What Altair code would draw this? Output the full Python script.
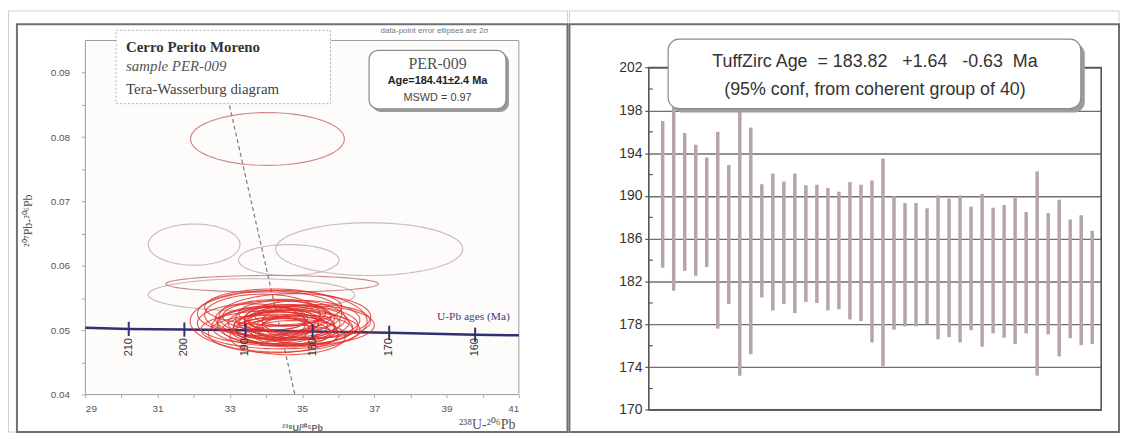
import altair as alt
import numpy as np
import pandas as pd

# ---------------- left panel: Tera-Wasserburg data ----------------
red_cx = [34.35, 34.10, 34.60, 34.40, 34.20, 34.75, 34.50, 34.30, 34.85, 34.05,
          34.55, 34.40, 34.65, 34.25, 34.45, 34.70, 34.35, 34.55, 34.15, 34.90,
          34.45, 34.60, 34.30, 34.50, 33.90, 35.00, 34.20, 34.70, 34.00, 35.10,
          35.20, 35.40, 33.60, 34.80, 34.40, 34.60, 34.20]
red_cy = [0.0514, 0.0526, 0.0508, 0.0518, 0.0506, 0.0504, 0.0511, 0.0522, 0.0512, 0.0512,
          0.0500, 0.0506, 0.0518, 0.0499, 0.0526, 0.0496, 0.0511, 0.0514, 0.0518, 0.0506,
          0.0504, 0.0522, 0.0515, 0.0508, 0.0524, 0.0516, 0.0536, 0.0491, 0.0501, 0.0501,
          0.0508, 0.0514, 0.0511, 0.0521, 0.0501, 0.0490, 0.0495]
red_a = [2.45, 2.00, 1.95, 1.80, 1.70, 1.65, 1.55, 1.50, 1.45, 1.40,
         1.40, 1.30, 1.25, 1.20, 1.20, 1.10, 1.10, 1.00, 1.00, 1.00,
         0.90, 0.90, 0.80, 0.75, 1.60, 1.60, 1.90, 1.30, 1.20, 1.30,
         1.80, 1.50, 1.50, 2.10, 2.20, 1.60, 1.80]
red_b = [0.0048, 0.0035, 0.0032, 0.0030, 0.0030, 0.0028, 0.0026, 0.0024, 0.0026, 0.0025,
         0.0022, 0.0022, 0.0021, 0.0020, 0.0020, 0.0019, 0.0018, 0.0017, 0.0018, 0.0018,
         0.0015, 0.0015, 0.0014, 0.0013, 0.0032, 0.0030, 0.0028, 0.0017, 0.0022, 0.0022,
         0.0030, 0.0026, 0.0030, 0.0036, 0.0030, 0.0028, 0.0030]
pink_cx = [34.04, 34.17]
pink_cy = [0.0797, 0.0572]
pink_a = [2.13, 2.94]
pink_b = [0.0041, 0.0013]
gray_cx = [32.01, 36.86, 33.60, 34.63]
gray_cy = [0.0633, 0.0626, 0.0555, 0.0609]
gray_a = [1.27, 2.59, 2.86, 1.39]
gray_b = [0.0032, 0.0041, 0.0025, 0.0024]

conc_x = [29.0, 30.2, 31.74, 33.43, 35.29, 37.41, 39.79, 41.0]
conc_y = [0.0504, 0.0502, 0.0501, 0.0500, 0.0498, 0.0496, 0.0493, 0.0492]
age_labels = ["210", "200", "190", "180", "170", "160"]
age_x = [30.2, 31.74, 33.43, 35.29, 37.41, 39.79]
age_y = [0.0502, 0.0501, 0.0500, 0.0498, 0.0496, 0.0493]
age_label_y = 0.04736
dash_x = [32.99, 34.80]
dash_y = [0.0849, 0.0400]

# ---------------- right panel: TuffZirc ranges ----------------
bar_hi = [197.0, 198.4, 195.9, 194.8, 193.6, 196.0, 192.9, 198.5, 196.4, 191.1,
          192.1, 191.35, 192.1, 191.0, 191.05, 190.75, 190.4, 191.3, 191.05, 191.45,
          193.5, 190.0, 189.35, 189.35, 188.85, 190.05, 189.75, 190.05, 189.0, 190.2,
          188.9, 189.15, 189.8, 188.5, 192.3, 188.4, 189.65, 187.8, 188.2, 186.75]
bar_lo = [183.3, 181.15, 183.0, 182.55, 183.35, 177.6, 179.9, 173.2, 175.2, 180.5,
          179.3, 179.9, 179.05, 180.1, 180.0, 179.3, 179.4, 178.45, 178.3, 176.3,
          174.1, 177.5, 177.8, 177.8, 178.0, 176.6, 176.8, 176.3, 177.45, 175.9,
          177.15, 176.75, 176.15, 177.15, 173.2, 177.05, 175.0, 176.7, 176.05, 176.15]
r_major = [170, 174, 178, 182, 186, 190, 194, 198, 202]
r_minor = [172, 176, 180, 184, 188, 192, 196, 200]

SANS = "Liberation Sans"
SERIF = "Liberation Serif"

# ---------- build tables ----------
theta = np.linspace(0, 2 * np.pi, 73)


def ellipses(group, cx, cy, a, b):
    rows = []
    for i, (x0, y0, aa, bb) in enumerate(zip(cx, cy, a, b)):
        for k, t in enumerate(theta):
            rows.append(dict(eid=f"{group}{i:02d}", grp=group, k=k,
                             x=x0 + aa * np.cos(t), y=y0 + bb * np.sin(t)))
    return pd.DataFrame(rows)


ell_back = pd.concat([ellipses("gray", gray_cx, gray_cy, gray_a, gray_b),
                      ellipses("pink", pink_cx, pink_cy, pink_a, pink_b)])
ell_red = ellipses("red", red_cx, red_cy, red_a, red_b)
conc_df = pd.DataFrame({"x": conc_x, "y": conc_y})
age_df = pd.DataFrame({"x": age_x, "y": age_y, "lab": age_labels,
                       "y1": [v - 0.0011 for v in age_y], "y2": [v + 0.0011 for v in age_y],
                       "ly": [age_label_y] * len(age_x)})
dash_df = pd.DataFrame({"x": dash_x, "y": dash_y})
one = pd.DataFrame({"k": [0]})

WL, HL = 437, 357
SX = alt.Scale(domain=[29, 41], nice=False, zero=False)
SY = alt.Scale(domain=[0.04, 0.095], nice=False, zero=False)
AXL = alt.Axis(values=list(range(29, 42)), labelExpr="datum.value % 2 == 1 ? datum.label : ''",
               title=None, grid=False, domain=False, tickColor="#aaa", tickSize=3,
               labelColor="#555", labelFontSize=10, labelFont=SANS, labelPadding=6)
AYL = alt.Axis(values=[0.04, 0.045, 0.05, 0.055, 0.06, 0.065, 0.07, 0.075, 0.08, 0.085, 0.09],
               labelExpr="round(datum.value * 1000) % 10 == 0 ? format(datum.value, '.2f') : ''",
               title=None, grid=False, domain=False, tickColor="#aaa", tickSize=4,
               labelColor="#555", labelFontSize=10, labelFont=SANS, labelPadding=12)


def XL(f):
    return alt.X(f, type="quantitative", scale=SX, axis=AXL)


def YL(f):
    return alt.Y(f, type="quantitative", scale=SY, axis=AYL)


def box(x1, x2, y1, y2, **kw):
    return alt.Chart(one).mark_rect(**kw).encode(
        x=alt.value(x1), x2=alt.value(x2), y=alt.value(y1), y2=alt.value(y2))


def label(txt, x, y, **kw):
    return alt.Chart(one).mark_text(text=txt, **kw).encode(x=alt.value(x), y=alt.value(y))


left_layers = [
    box(-77.5, 486, -29.8, 394.7, fillOpacity=0, stroke="#d0d0d0", strokeWidth=1),
    box(-69, 486, -16.3, 394.7, fillOpacity=0, stroke="#707070", strokeWidth=2),
    box(0, WL, 0, HL, fill="#fdfcfb", stroke="#9a9a9a", strokeWidth=1),
    alt.Chart(ell_back).mark_line(strokeWidth=1.2, clip=True).encode(
        x=XL("x"), y=YL("y"), detail="eid:N", order="k:Q",
        color=alt.Color("grp:N", scale=alt.Scale(domain=["gray", "pink"], range=["#c9bdc0", "#d18a8c"]),
                        legend=None)),
    alt.Chart(dash_df).mark_line(strokeDash=[4, 3], color="#7a7a7a", strokeWidth=1.2, clip=True).encode(
        x=XL("x"), y=YL("y")),
    alt.Chart(conc_df).mark_line(color="#2f3170", strokeWidth=2.5).encode(x=XL("x"), y=YL("y")),
    alt.Chart(ell_red).mark_line(strokeWidth=1.1, opacity=0.8, color="#e0302a", clip=True).encode(
        x=XL("x"), y=YL("y"), detail="eid:N", order="k:Q"),
    alt.Chart(age_df).mark_rule(color="#2f3170", strokeWidth=2).encode(x=XL("x"), y=YL("y1"), y2="y2"),
    alt.Chart(age_df).mark_text(angle=270, font=SANS, fontSize=11, color="#333").encode(
        x=XL("x"), y=YL("ly"), text="lab:N"),
    alt.Chart(pd.DataFrame({"x": [40.75], "y": [0.0521]})).mark_text(
        text="U-Pb ages (Ma)", align="right", font=SERIF, fontSize=11.5, color="#3a3c7a").encode(
        x=XL("x"), y=YL("y")),
    # text box
    box(31, 247, -10.3, 63.7, fill="white", stroke="#b0b0b0", strokeDash=[2, 2], strokeWidth=1),
    label("Cerro Perito Moreno", 41, 6.7, align="left", baseline="middle", font=SERIF, fontSize=15,
          fontWeight="bold", color="#333"),
    label("sample PER-009", 41, 26, align="left", baseline="middle", font=SERIF, fontSize=15,
          fontStyle="italic", color="#555"),
    label("Tera-Wasserburg diagram", 41, 48.5, align="left", baseline="middle", font=SERIF, fontSize=15,
          color="#444"),
    # PER box
    box(289, 427, 13, 72, fill="#9a9a9a", cornerRadius=9),
    box(286, 424, 10, 69, fill="white", stroke="#8a8a8a", strokeWidth=1.2, cornerRadius=9),
    label("PER-009", 355, 23.7, align="center", baseline="middle", font=SERIF, fontSize=16, color="#555"),
    label("Age=184.41\u00b12.4 Ma", 355, 40.5, align="center", baseline="middle", font=SANS, fontSize=11,
          fontWeight="bold", color="#222"),
    label("MSWD = 0.97", 355, 58.4, align="center", baseline="middle", font=SANS, fontSize=11, color="#444"),
    label("data-point error ellipses are 2\u03c3", 352, -9.3, align="center", baseline="middle", font=SANS,
          fontSize=8, color="#777"),
    # axis titles
    label("\u00b2\u2070\u2077Pb-\u00b2\u2070\u2076Pb", -58, 181.7, angle=270, align="center",
          baseline="middle", font=SERIF, fontSize=12, color="#555"),
    label("\u00b2\u00b3\u2078U/\u00b2\u2070\u2076Pb", 219, 390.5, align="center", baseline="middle",
          font=SANS, fontSize=9, fontWeight="bold", color="#666"),
    label("\u00b2\u00b3\u2078U-\u00b2\u2070\u2076Pb", 405, 388, align="center", baseline="middle",
          font=SERIF, fontSize=14, color="#555"),
]
left = alt.layer(*left_layers).properties(width=WL, height=HL)

# ---------------- right panel ----------------
# cell origin shares the left cell's top; the plot itself spans y 27.4 .. 372.4
WR, HR = 456, 372.4
TOP = 27.4
bars = pd.DataFrame({"idx": list(range(1, len(bar_hi) + 1)), "lo": bar_lo, "hi": bar_hi})
minor_df = pd.DataFrame({"v": r_minor})
SXR = alt.Scale(domain=[-0.26, 40.81], nice=False, zero=False)
SYR = alt.Scale(domain=[170, 202], nice=False, zero=False, range=[HR, TOP])
AYR = alt.Axis(values=r_major, title=None, grid=True, gridColor="#6e6e6e", gridWidth=1.4,
               domain=False, tickColor="#555", tickSize=4, tickWidth=1.2,
               labelColor="#333", labelFontSize=14, labelFont=SANS, labelPadding=3)


def YR(f):
    return alt.Y(f, type="quantitative", scale=SYR, axis=AYR)


right_layers = [
    box(-80, 474, -29.8, 394.7, fillOpacity=0, stroke="#d0d0d0", strokeWidth=1),
    box(-80, 474, -16.3, 394.7, fillOpacity=0, stroke="#707070", strokeWidth=2),
    alt.Chart(bars).mark_rule(strokeWidth=3.5, color="#b7a4a6").encode(
        x=alt.X("idx:Q", scale=SXR, axis=None), y=YR("lo"), y2="hi"),
    alt.Chart(minor_df).mark_rule(color="#555", strokeWidth=1.2).encode(
        x=alt.value(0), x2=alt.value(4), y=YR("v")),
    box(0, WR, TOP, HR, fillOpacity=0, stroke="#555", strokeWidth=1.6),
    box(23.5, 439.5, 2.7, 72.7, fill="#9c9c9c", cornerRadius=11),
    box(19.5, 435.5, -1.3, 68.7, fill="white", stroke="#8a8a8a", strokeWidth=1.2, cornerRadius=11),
    label("TuffZirc Age\u00a0 = 183.82 \u00a0 +1.64 \u00a0 -0.63 \u00a0Ma", 228, 21.7, align="center",
          baseline="middle", font=SANS, fontSize=18, color="#333"),
    label("(95% conf, from coherent group of 40)", 228, 50, align="center", baseline="middle",
          font=SANS, fontSize=18, color="#333"),
]
right = alt.layer(*right_layers).properties(width=WR, height=HR)

chart = alt.hconcat(left, right, spacing=0).properties(padding=0, background="white").configure_view(
    stroke=None)
chart.save("out.html", embed_options={"renderer": "svg", "actions": False})
